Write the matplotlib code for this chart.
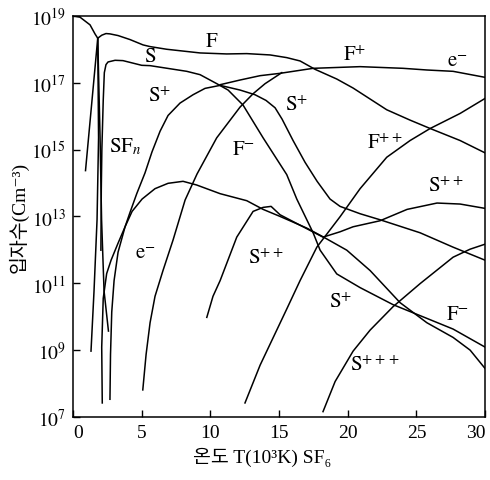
import numpy as np
import matplotlib
matplotlib.use("Agg")
import matplotlib.pyplot as plt

plt.rcParams['mathtext.fontset'] = 'stix'
plt.rcParams['font.family'] = ['Liberation Serif', 'Noto Sans CJK KR', 'DejaVu Sans']

# ---- data: temperature (10^3 K) and log10 of particle density (cm^-3) ----
sf6_T    = [0, 0.51, 1.24, 1.6, 1.8, 1.86, 1.75, 1.53, 1.31]
sf6_logn = [19.0, 18.96, 18.73, 18.46, 18.33, 15.35, 12.9, 10.77, 8.97]

sfn_T    = [1.8, 1.97, 2.08, 2.26, 2.58]
sfn_logn = [18.33, 15.35, 12.9, 10.77, 9.57]

f_T    = [0.91, 1.8, 2.09, 2.4, 2.69, 3.28, 4.15, 5.1, 5.61, 6.82, 9.25, 11.19, 12.65,
          14.35, 15.56, 16.53, 17.62, 19.2, 20.39, 22.84, 24.54, 26.0, 28.18, 30.0]
f_logn = [14.37, 18.33, 18.42, 18.47, 18.46, 18.41, 18.29, 18.13, 18.08, 18.0, 17.89,
          17.86, 17.87, 17.83, 17.75, 17.65, 17.40, 17.11, 16.84, 16.19, 15.88, 15.63,
          15.27, 14.90]

s_T    = [2.03, 2.06, 2.1, 2.2, 2.28, 2.4, 2.55, 3.06, 3.64, 5.0, 5.61, 8.28, 9.25, 10.47,
          11.29, 12.38, 13.84, 15.56, 16.29, 17.48, 17.99, 19.2, 20.9, 23.3, 25.76, 27.67, 30.0]
s_logn = [11.99, 13.83, 14.99, 16.47, 17.30, 17.54, 17.62, 17.67, 17.66, 17.52, 17.51,
          17.34, 17.24, 16.97, 16.78, 16.33, 15.35, 14.25, 13.52, 12.51, 11.99, 11.28,
          10.87, 10.36, 9.95, 9.63, 9.09]

sp_T    = [2.13, 2.09, 2.2, 2.45, 2.77, 3.28, 3.79, 4.15, 4.64, 5.24, 5.75, 6.34, 6.92,
           7.79, 8.74, 9.61, 10.71, 12.16, 13.25, 14.05, 14.71, 15.22, 16.02, 16.89, 17.77,
           18.71, 19.44, 20.9, 22.35, 25.27, 27.67, 30.0]
sp_logn = [7.42, 9.09, 10.55, 11.29, 11.69, 12.2, 12.69, 13.12, 13.68, 14.3, 14.93, 15.55,
           16.02, 16.39, 16.64, 16.83, 16.92, 16.78, 16.64, 16.47, 16.25, 15.91, 15.27,
           14.62, 14.05, 13.52, 13.3, 13.08, 12.9, 12.51, 12.08, 11.69]

e_T    = [10.71, 12.16, 13.62, 15.07, 17.48, 20.9, 24.03, 25.76, 27.67, 30.0]
e_logn = [16.94, 17.08, 17.21, 17.28, 17.43, 17.48, 17.43, 17.38, 17.34, 17.16]

fp_T    = [5.08, 5.32, 5.61, 5.97, 6.55, 7.28, 8.16, 9.03, 10.46, 12.16, 13.11, 13.98, 15.2]
fp_logn = [7.81, 8.87, 9.82, 10.61, 11.38, 12.29, 13.49, 14.27, 15.35, 16.27, 16.67,
           16.97, 17.30]

fm_T    = [2.69, 2.73, 2.82, 2.99, 3.28, 3.79, 4.3, 5.03, 5.97, 6.92, 8.01, 9.0, 10.71,
           12.65, 13.84, 15.07, 17.02, 18.2, 19.93, 21.63, 23.81, 25.76, 27.67, 28.91, 30.0]
fm_logn = [7.53, 8.87, 10.14, 11.08, 11.93, 12.69, 13.15, 13.52, 13.83, 13.99, 14.05,
           13.94, 13.68, 13.47, 13.21, 13.0, 12.65, 12.39, 11.99, 11.38, 10.42, 9.82,
           9.38, 9.0, 8.45]

spp_T    = [9.74, 10.19, 10.71, 11.92, 13.11, 13.84, 14.42, 15.07, 16.75, 18.2, 19.44,
            20.39, 22.35, 24.32, 26.5, 28.18, 30.0]
spp_logn = [9.98, 10.61, 11.08, 12.38, 13.15, 13.27, 13.3, 13.05, 12.69, 12.38, 12.54,
            12.69, 12.87, 13.21, 13.4, 13.37, 13.24]

fpp_T    = [12.52, 13.62, 15.56, 16.53, 17.75, 19.44, 20.9, 22.84, 24.54, 26.0, 28.18, 30.0]
fpp_logn = [7.42, 8.55, 10.23, 11.08, 12.08, 12.99, 13.83, 14.77, 15.27, 15.63, 16.08, 16.53]

sppp_T    = [18.2, 19.08, 20.39, 21.63, 23.3, 25.27, 27.67, 28.91, 30.0]
sppp_logn = [7.16, 8.06, 8.97, 9.6, 10.3, 10.99, 11.78, 12.02, 12.17]

curves = [(sf6_T, sf6_logn), (sfn_T, sfn_logn), (f_T, f_logn), (s_T, s_logn),
          (sp_T, sp_logn), (e_T, e_logn), (fp_T, fp_logn), (fm_T, fm_logn),
          (spp_T, spp_logn), (fpp_T, fpp_logn), (sppp_T, sppp_logn)]

# curve labels: text, T, log10 n
label_text = [r'$\mathrm{F}$', r'$\mathrm{S}$', r'$\mathrm{F}^{+}$', r'$\mathrm{e}^{-}$',
              r'$\mathrm{S}^{+}$', r'$\mathrm{S}^{+}$', r'$\mathrm{SF}_{n}$',
              r'$\mathrm{F}^{++}$', r'$\mathrm{F}^{-}$', r'$\mathrm{S}^{++}$',
              r'$\mathrm{e}^{-}$', r'$\mathrm{S}^{++}$', r'$\mathrm{S}^{+}$',
              r'$\mathrm{F}^{-}$', r'$\mathrm{S}^{+++}$']
label_T    = [10.1, 5.6, 20.5, 28.0, 6.3, 16.3, 3.8, 22.7, 12.4, 27.1, 5.25, 14.0, 19.45, 28.0, 22.0]
label_logn = [18.24, 17.78, 17.83, 17.62, 16.6, 16.33, 15.1, 15.2, 15.0, 13.9, 11.9, 11.75, 10.42, 10.07, 8.55]

x_ticks = [0, 5, 10, 15, 20, 25, 30]
y_exps = [7, 9, 11, 13, 15, 17, 19]

fig = plt.figure(figsize=(4.9, 4.81), dpi=100)
ax = fig.add_axes([0.149, 0.131, 0.841, 0.834])

for T, ln in curves:
    ax.plot(T, 10.0 ** np.array(ln), color='black', lw=1.1)

for txt, t, ln in zip(label_text, label_T, label_logn):
    ax.text(t, 10.0 ** ln, txt, fontsize=15, ha='center', va='center', color='black')

ax.set_yscale('log')
ax.set_xlim(0, 30)
ax.set_ylim(1e7, 1e19)
ax.set_xticks(x_ticks)
xt = ax.set_xticklabels([str(v) for v in x_ticks], fontsize=14)
xt[-1].set_horizontalalignment('right')
xt[0].set_horizontalalignment('left')
ax.set_yticks([10.0 ** e for e in y_exps])
ax.set_yticklabels([r'$10^{%d}$' % e for e in y_exps], fontsize=14)
ax.yaxis.set_minor_locator(matplotlib.ticker.NullLocator())
ax.tick_params(direction='in', length=5, width=1, pad=5)
for sp in ax.spines.values():
    sp.set_linewidth(1.1)

ax.set_xlabel('온도 T(10³K) SF₆', fontsize=14, labelpad=6)
ax.xaxis.set_label_coords(0.46, -0.075)
ax.set_ylabel('입자수(Cm⁻³)', fontsize=14, labelpad=2)

fig.savefig('out.png', dpi=100)
